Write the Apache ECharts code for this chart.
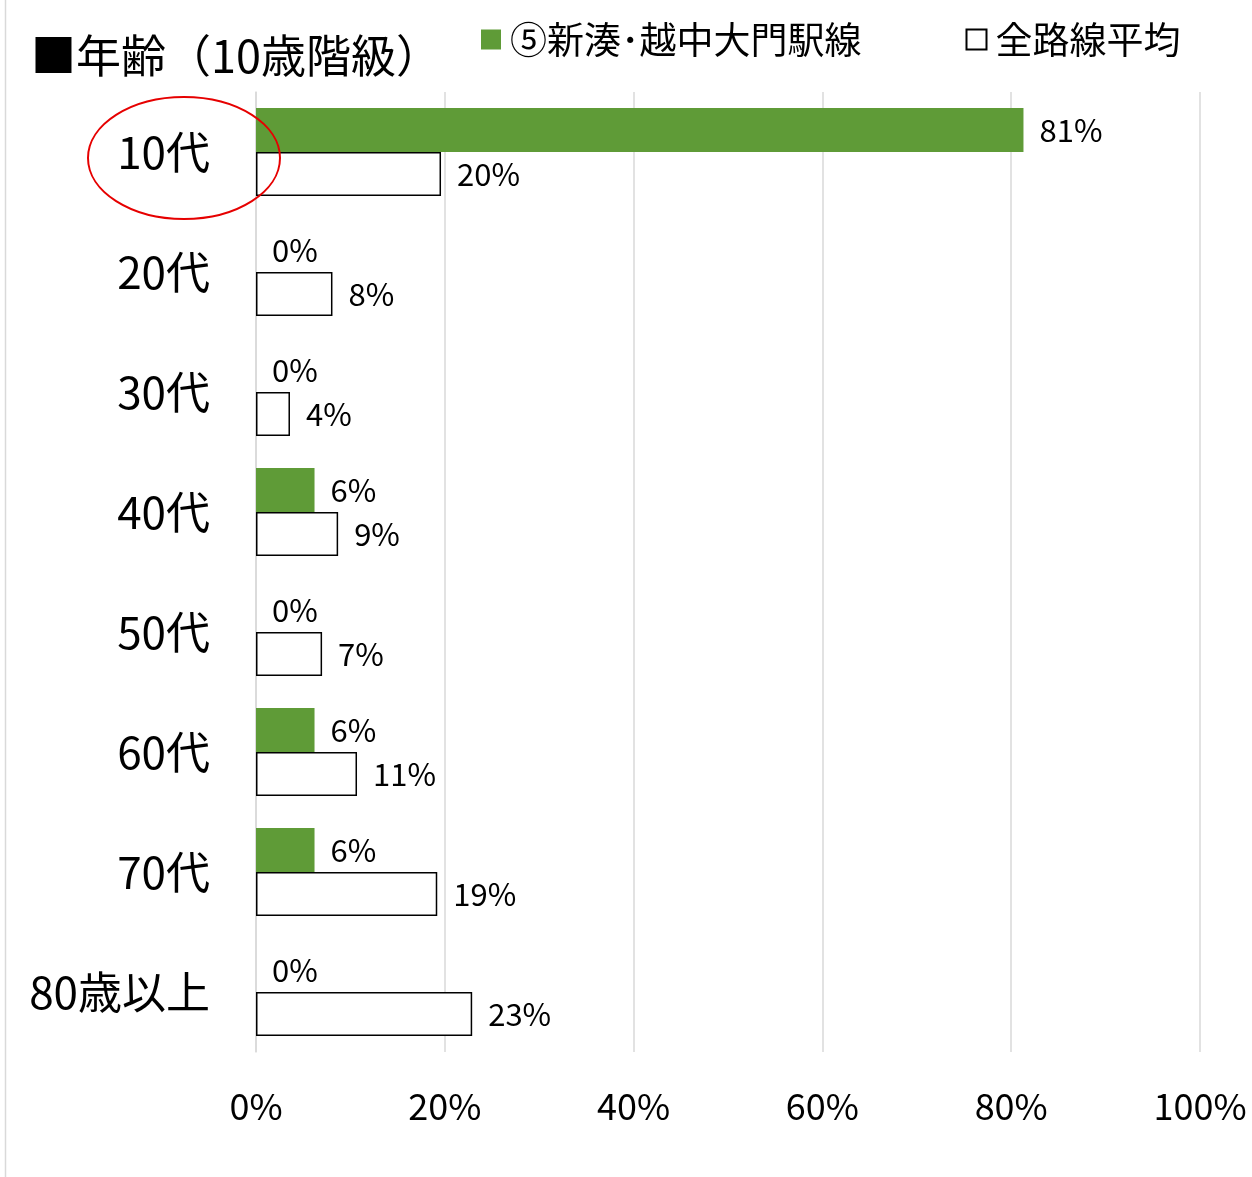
<!DOCTYPE html>
<html>
<head>
  <meta charset="utf-8">
  <title>年齢（10歳階級）</title>
  <script src="https://cdn.jsdelivr.net/npm/echarts@6/dist/echarts.min.js"></script>
  <style>
    html, body { margin: 0; padding: 0; background: #fff; }
    #chart { width: 1252px; height: 1177px; }
  </style>
</head>
<body>
<div id="chart"></div>
<script>
var categories = ["10代", "20代", "30代", "40代", "50代", "60代", "70代", "80歳以上"];
var lineValues = [81.3, 0, 0, 6.2, 0, 6.2, 6.2, 0];       // ⑤新湊･越中大門駅線
var avgValues = [19.6, 8.1, 3.6, 8.7, 7.0, 10.7, 19.2, 22.9]; // 全路線平均
var xTicks = [0, 20, 40, 60, 80, 100];

var font = "'Noto Sans CJK JP', 'Noto Sans', sans-serif";

function pct(p) {
    return Math.round(p.value) + "%";
}

var myChart = echarts.init(document.getElementById("chart"));
var option = {
    backgroundColor: "#fff",
    animation: false,
    textStyle: { fontFamily: font, color: "#000" },
    title: {
        text: "■年齢（10歳階級）",
        left: 26,
        top: 28,
        textStyle: { fontSize: 45, fontWeight: "normal", color: "#000", fontFamily: font }
    },
    legend: {
        left: 476,
        top: 16,
        itemWidth: 20,
        itemHeight: 20,
        itemGap: 104,
        icon: "rect",
        textStyle: { fontSize: 37, color: "#000", fontFamily: font, padding: [0, 0, 0, 4] },
        data: ["⑤新湊･越中大門駅線", "全路線平均"]
    },
    grid: {
        left: 256,
        right: 52,
        top: 92,
        bottom: 125,
        containLabel: false
    },
    xAxis: {
        type: "value",
        min: 0,
        max: 100,
        interval: 20,
        axisLine: { show: false },
        axisTick: { show: false },
        splitLine: { lineStyle: { color: "#d9d9d9", width: 1.5 } },
        axisLabel: {
            fontSize: 36,
            color: "#000",
            margin: 36,
            fontFamily: font,
            formatter: function (v) { return xTicks.indexOf(v) >= 0 ? v + "%" : ""; }
        }
    },
    yAxis: {
        type: "category",
        inverse: true,
        data: categories,
        axisLine: { show: true, lineStyle: { color: "#d9d9d9", width: 1.5 } },
        axisTick: { show: false },
        axisLabel: { fontSize: 44, color: "#000", margin: 46, fontFamily: font }
    },
    series: [{
        name: "⑤新湊･越中大門駅線",
        type: "bar",
        data: lineValues,
        barGap: "0%",
        barCategoryGap: "26.7%",
        itemStyle: { color: "#5f9b37" },
        label: {
            show: true,
            position: "right",
            distance: 16,
            fontSize: 31,
            color: "#000",
            fontFamily: font,
            formatter: pct
        }
    }, {
        name: "全路線平均",
        type: "bar",
        data: avgValues,
        barGap: "0%",
        barCategoryGap: "26.7%",
        itemStyle: { color: "#fff", borderColor: "#000", borderWidth: 1.5 },
        label: {
            show: true,
            position: "right",
            distance: 16,
            fontSize: 31,
            color: "#000",
            fontFamily: font,
            formatter: pct
        }
    }],
    graphic: [{
        type: "line",
        shape: { x1: 5.5, y1: 0, x2: 5.5, y2: 1177 },
        style: { stroke: "#d9d9d9", lineWidth: 1.5 }
    }, {
        type: "ellipse",
        shape: { cx: 184, cy: 158, rx: 96, ry: 61 },
        style: { fill: null, stroke: "#e60000", lineWidth: 2 },
        z: 100
    }]
};
myChart.setOption(option);
</script>
</body>
</html>
